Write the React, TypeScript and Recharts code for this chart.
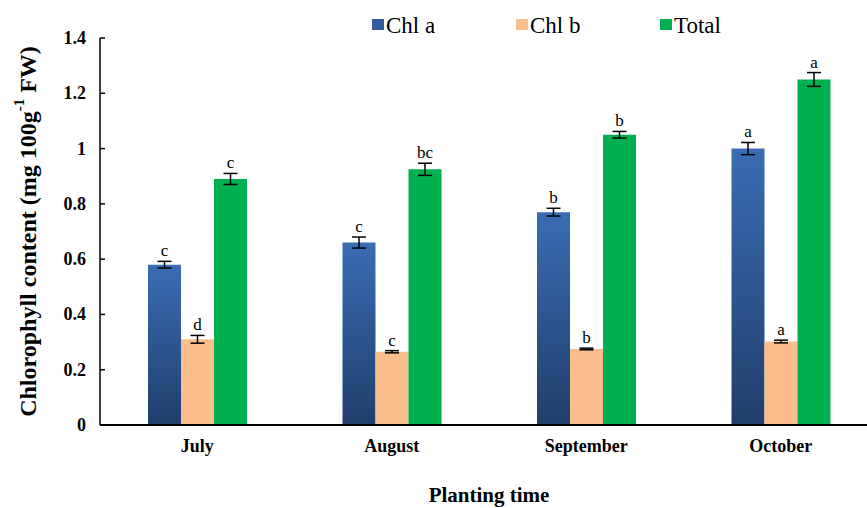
import React from "react";
import {
  BarChart,
  Bar,
  XAxis,
  YAxis,
  ErrorBar,
  LabelList,
} from "recharts";

const months = ["July", "August", "September", "October"];
const chlA = [0.58, 0.66, 0.77, 1.0];
const chlB = [0.31, 0.265, 0.275, 0.302];
const total = [0.89, 0.925, 1.05, 1.25];
const chlAErr = [0.012, 0.02, 0.014, 0.022];
const chlBErr = [0.014, 0.004, 0.003, 0.005];
const totalErr = [0.02, 0.022, 0.012, 0.025];
const chlALetters = ["c", "c", "b", "a"];
const chlBLetters = ["d", "c", "b", "a"];
const totalLetters = ["c", "bc", "b", "a"];
const yTicks = [0, 0.2, 0.4, 0.6, 0.8, 1, 1.2, 1.4];

const data = months.map((m, i) => ({
  month: m,
  chlA: chlA[i],
  chlB: chlB[i],
  total: total[i],
  chlAErr: chlAErr[i],
  chlBErr: chlBErr[i],
  totalErr: totalErr[i],
}));

const FONT = "Liberation Serif";
const BLUE = "#2f5c9c";
const PEACH = "#f9be8c";
const GREEN = "#00b050";

const YTick = (props: any) => {
  const { x, y, payload } = props;
  return (
    <g>
      <line x1={x + 14} x2={x + 19} y1={y} y2={y} stroke="#000" strokeWidth={1.5} />
      <text x={x} y={y} dy={6} textAnchor="end" fontFamily={FONT} fontWeight="bold" fontSize={18} fill="#000">
        {payload.value}
      </text>
    </g>
  );
};

const XTick = (props: any) => {
  const { x, y, payload } = props;
  return (
    <text x={x} y={y} dy={13} textAnchor="middle" fontFamily={FONT} fontWeight="bold" fontSize={18} fill="#000">
      {payload.value}
    </text>
  );
};

// letters sit just above the error bar cap
const letterLabel = (letters: string[], errs: number[], values: number[]) => (props: any) => {
  const { index } = props;
  const vb = props.viewBox || props;
  const pxPerUnit = vb.height / values[index];
  const top = vb.y - errs[index] * pxPerUnit;
  return (
    <text x={vb.x + vb.width / 2} y={top - 5} textAnchor="middle" fontFamily={FONT} fontSize={17} fill="#000">
      {letters[index]}
    </text>
  );
};

const legendItems = [
  { name: "Chl a", color: BLUE },
  { name: "Chl b", color: PEACH },
  { name: "Total", color: GREEN },
];

const YLabel = (props: any) => {
  const vb = props.viewBox;
  const cy = vb.y + vb.height / 2;
  const cx = 28;
  return (
    <text
      x={cx}
      y={cy}
      transform={`rotate(-90, ${cx}, ${cy})`}
      textAnchor="middle"
      dominantBaseline="central"
      fontFamily={FONT}
      fontWeight="bold"
      fontSize={24}
      fill="#000"
    >
      Chlorophyll content (mg 100g
      <tspan dy={-9} fontSize={15}>-1</tspan>
      <tspan dy={9}>{"  FW)"}</tspan>
    </text>
  );
};

const XLabel = (props: any) => {
  const vb = props.viewBox;
  return (
    <text x={vb.x + vb.width / 2} y={502} textAnchor="middle" fontFamily={FONT} fontWeight="bold" fontSize={21} fill="#000">
      Planting time
    </text>
  );
};

export default function App() {
  return (
    <div style={{ position: "absolute", left: 0, top: 0, width: 867, height: 508, overflow: "hidden", background: "#fff" }}>
      <svg width={440} height={40} style={{ position: "absolute", top: 5, left: 372 }}>
        {legendItems.map((it, i) => (
          <g key={it.name} transform={`translate(${i * 144}, 0)`}>
            <rect x={0} y={14} width={12} height={11} fill={it.color} />
            <text x={14} y={28} fontFamily={FONT} fontSize={23} fill="#000">
              {it.name}
            </text>
          </g>
        ))}
      </svg>
      <BarChart
        width={882}
        height={508}
        data={data}
        margin={{ top: 38, right: 4, bottom: 53, left: 0 }}
        barCategoryGap={48}
        barGap={0}
      >
        <defs>
          <linearGradient id="blueGrad" x1="0" y1="0" x2="0" y2="1">
            <stop offset="0%" stopColor="#3a6db4" />
            <stop offset="100%" stopColor="#203e6b" />
          </linearGradient>
        </defs>
        <XAxis
          dataKey="month"
          height={30}
          axisLine={{ stroke: "#000", strokeWidth: 2 }}
          tickLine={false}
          tickSize={0}
          tickMargin={14}
          tick={<XTick />}
          label={<XLabel />}
        />
        <YAxis
          width={100}
          domain={[0, 1.4]}
          ticks={yTicks}
          axisLine={{ stroke: "#000", strokeWidth: 1.5 }}
          tickLine={false}
          tickSize={0}
          tickMargin={14}
          tick={<YTick />}
          label={<YLabel />}
        />
        <Bar dataKey="chlA" fill="url(#blueGrad)" isAnimationActive={false}>
          <ErrorBar dataKey="chlAErr" width={7} stroke="#000" strokeWidth={1.5} />
          <LabelList dataKey="chlA" content={letterLabel(chlALetters, chlAErr, chlA)} />
        </Bar>
        <Bar dataKey="chlB" fill={PEACH} isAnimationActive={false}>
          <ErrorBar dataKey="chlBErr" width={7} stroke="#000" strokeWidth={1.5} />
          <LabelList dataKey="chlB" content={letterLabel(chlBLetters, chlBErr, chlB)} />
        </Bar>
        <Bar dataKey="total" fill={GREEN} isAnimationActive={false}>
          <ErrorBar dataKey="totalErr" width={7} stroke="#000" strokeWidth={1.5} />
          <LabelList dataKey="total" content={letterLabel(totalLetters, totalErr, total)} />
        </Bar>
      </BarChart>
    </div>
  );
}
